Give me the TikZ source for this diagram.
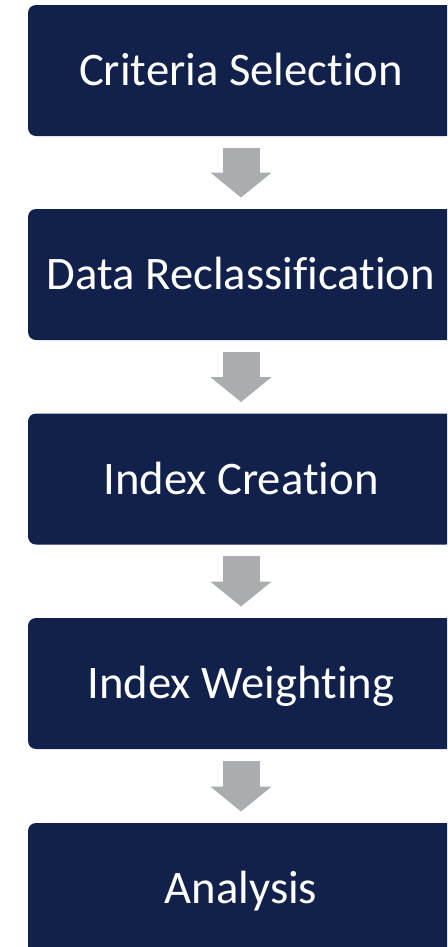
\documentclass[tikz,border=0pt]{standalone}
\usepackage{fontspec}
\setmainfont{Carlito}[Ligatures=NoCommon]
\usetikzlibrary{arrows.meta}

\definecolor{stepnavy}{RGB}{17,33,75}
\definecolor{flowgray}{RGB}{171,172,176}

\tikzset{every picture/.style={line width=0.75pt}}
\tikzset{
    stepbox/.style={rectangle, rounded corners=6pt, fill=stepnavy, text=white,
        minimum width=319.5pt, minimum height=98.25pt, inner sep=0pt,
        font=\fontsize{35}{42}\selectfont, text height=22.5pt, text depth=0pt},
    flowarrow/.style={draw=flowgray, line width=27.75pt, shorten <=8.25pt, shorten >=8.25pt,
        -{Triangle[width=45pt, length=18.75pt, fill=flowgray]}}
}

\begin{document}
\begin{tikzpicture}[x=0.75pt,y=0.75pt,yscale=-1,xscale=1]
    \useasboundingbox (0,0) rectangle (447,947);
    \clip (0,0) rectangle (447,947);

    % Boxes
    \node [stepbox] (crit) at (241,70.5) {Criteria Selection};
    \node [stepbox] (recl) at (241,274.5) {Data Reclassification};
    \node [stepbox] (indx) at (241,479) {Index Creation};
    \node [stepbox] (wght) at (241,683.5) {Index Weighting};
    \node [stepbox] (anls) at (241,888.5) {Analysis};

    % Arrows
    \draw [flowarrow] (crit.south) -- (recl.north);
    \draw [flowarrow] (recl.south) -- (indx.north);
    \draw [flowarrow] (indx.south) -- (wght.north);
    \draw [flowarrow] (wght.south) -- (anls.north);
\end{tikzpicture}
\end{document}
